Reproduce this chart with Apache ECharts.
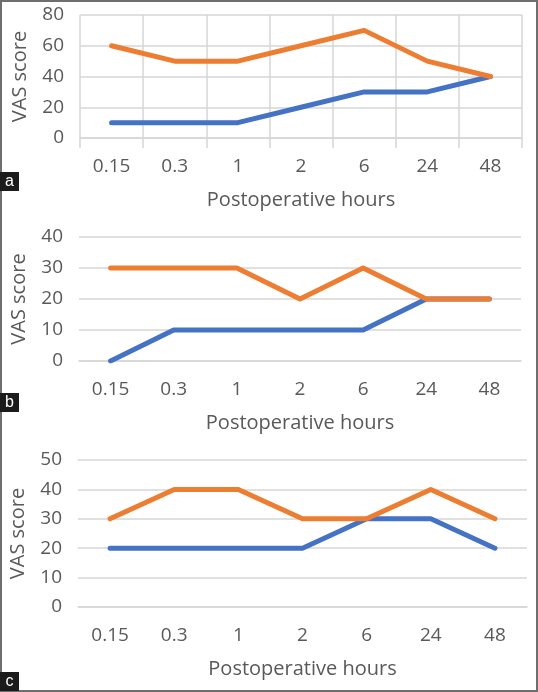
<!DOCTYPE html>
<html>
<head>
<meta charset="utf-8">
<script src="https://cdn.jsdelivr.net/npm/echarts@6/dist/echarts.min.js"></script>
<style>
html,body{margin:0;padding:0;background:#fff;}
#chart{width:538px;height:692px;}
</style>
</head>
<body>
<div id="chart"></div>
<script>
const categories = ['0.15', '0.3', '1', '2', '6', '24', '48'];
const blueA = [10, 10, 10, 20, 30, 30, 40];
const orangeA = [60, 50, 50, 60, 70, 50, 40];
const blueB = [0, 10, 10, 10, 10, 20, 20];
const orangeB = [30, 30, 30, 20, 30, 20, 20];
const blueC = [20, 20, 20, 20, 30, 30, 20];
const orangeC = [30, 40, 40, 30, 30, 40, 30];
const panelLetters = ['a', 'b', 'c'];
const xName = 'Postoperative hours';
const yName = 'VAS score';

const BLUE = '#4472C4', ORANGE = '#ED7D31', GRID = '#d6d6d6', TXT = '#595959';
const FONT = 'Open Sans';

const grids = [
  {left: 80, right: 16, top: 15, height: 123},
  {left: 79, right: 17, top: 237, height: 124},
  {left: 78, right: 11, top: 460, height: 147}
];
const yMax = [80, 40, 50];
const series = [[blueA, orangeA], [blueB, orangeB], [blueC, orangeC]];

const xAxes = grids.map((g, i) => ({
  type: 'category', gridIndex: i, data: categories, boundaryGap: true,
  name: xName, nameLocation: 'middle', nameGap: 52,
  nameTextStyle: {color: TXT, fontFamily: FONT, fontSize: 20},
  axisLine: {show: true, lineStyle: {color: GRID, width: 1.5}},
  axisTick: {show: i === 0, length: 10, lineStyle: {color: GRID, width: 1.5}},
  splitLine: {show: i === 0, lineStyle: {color: GRID, width: 1.5}},
  axisLabel: {color: TXT, fontFamily: FONT, fontSize: 19, margin: 19}
}));
const yAxes = grids.map((g, i) => ({
  type: 'value', gridIndex: i, min: 0, max: yMax[i], interval: i === 0 ? 20 : 10,
  name: yName, nameLocation: 'middle', nameGap: 50,
  nameTextStyle: {color: TXT, fontFamily: FONT, fontSize: 20},
  axisLine: {show: false}, axisTick: {show: false},
  splitLine: {show: true, lineStyle: {color: GRID, width: 1.5}},
  axisLabel: {color: TXT, fontFamily: FONT, fontSize: 19, margin: 16}
}));
const seriesList = [];
series.forEach((pair, i) => {
  [BLUE, ORANGE].forEach((c, k) => {
    seriesList.push({
      type: 'line', xAxisIndex: i, yAxisIndex: i, data: pair[k],
      symbol: 'none', silent: true,
      lineStyle: {color: c, width: 5, cap: 'round', join: 'round'}
    });
  });
});

const boxY = [172, 393, 672];
const graphics = [
  {type: 'rect', shape: {x: 1, y: 1, width: 536, height: 690}, style: {fill: 'none', stroke: '#6e6e6e', lineWidth: 2}, z: 100}
];
boxY.forEach((y, i) => {
  graphics.push({type: 'rect', shape: {x: 0, y: y, width: 19, height: 19}, style: {fill: '#1b1b1b'}, z: 101});
  graphics.push({type: 'text', x: 9.5, y: y + 9.5, style: {text: panelLetters[i], fill: '#fff', font: '16px "Liberation Sans"', align: 'center', verticalAlign: 'middle'}, z: 102});
});

const chart = echarts.init(document.getElementById('chart'), null, {renderer: 'canvas'});
chart.setOption({
  animation: false,
  backgroundColor: '#fff',
  grid: grids,
  xAxis: xAxes,
  yAxis: yAxes,
  series: seriesList,
  graphic: graphics
});
</script>
</body>
</html>
